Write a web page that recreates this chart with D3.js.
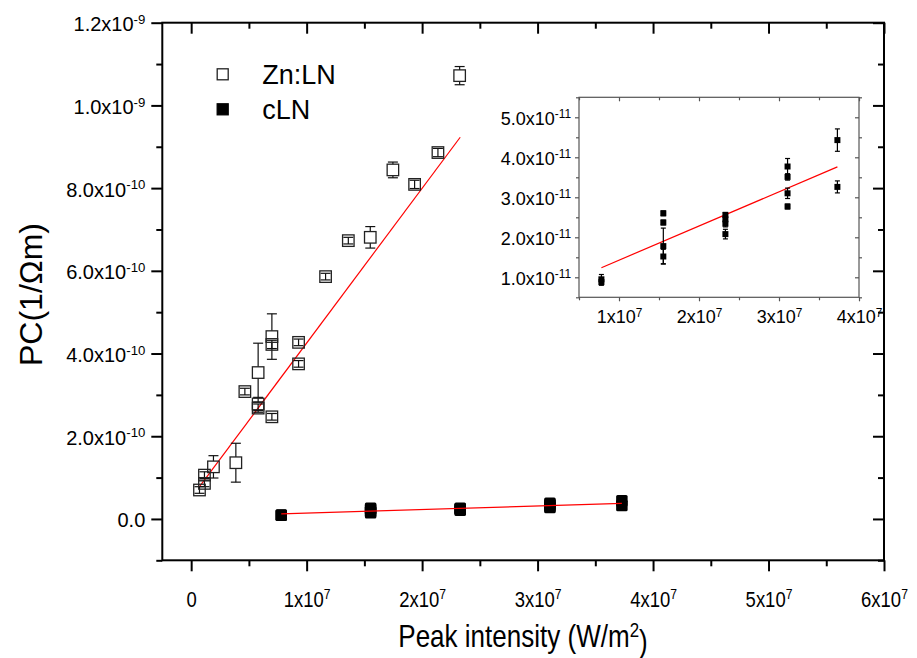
<!DOCTYPE html>
<html>
<head>
<meta charset="utf-8">
<script src="https://cdn.jsdelivr.net/npm/d3@7"></script>
<style>
body { margin: 0; background: #fff; }
text { font-family: "Liberation Sans", Arial, sans-serif; fill: #000; }
</style>
</head>
<body>
<svg id="chart" width="917" height="658"></svg>
<script>
// Zn:LN (main plot, open squares)
const znX = [0.072e7, 0.115e7, 0.115e7, 0.193e7, 0.387e7, 0.465e7, 0.58e7, 0.58e7, 0.58e7, 0.699e7, 0.699e7,
	0.699e7, 0.93e7, 0.93e7, 1.164e7, 1.361e7, 1.551e7, 1.747e7, 1.935e7, 2.137e7, 2.325e7];
const znY = [0.70e-10, 0.86e-10, 1.06e-10, 1.26e-10, 1.36e-10, 3.08e-10, 2.68e-10, 2.78e-10, 3.54e-10, 2.47e-10, 4.22e-10,
	4.41e-10, 3.75e-10, 4.27e-10, 5.86e-10, 6.73e-10, 6.81e-10, 8.44e-10, 8.09e-10, 8.86e-10, 10.72e-10];
const znErr = [0.08e-10, 0.08e-10, 0.08e-10, 0.27e-10, 0.47e-10, 0.08e-10, 0.1e-10, 0.16e-10, 0.71e-10, 0.08e-10, 0.1e-10,
	0.55e-10, 0.08e-10, 0.08e-10, 0.08e-10, 0.08e-10, 0.26e-10, 0.19e-10, 0.1e-10, 0.1e-10, 0.22e-10];
const znFitX = [0.072e7, 2.33e7];
const znFitY = [0.78e-10, 9.23e-10];

// cLN (filled squares, main plot and inset)
const clnX = [0.78e7, 0.78e7, 1.554e7, 1.554e7, 1.554e7, 1.554e7, 2.33e7, 2.33e7, 2.33e7, 2.33e7,
	3.107e7, 3.107e7, 3.107e7, 3.107e7, 3.73e7, 3.73e7];
const clnY = [0.95e-11, 0.88e-11, 2.60e-11, 2.37e-11, 1.78e-11, 1.52e-11, 2.56e-11, 2.45e-11, 2.34e-11, 2.08e-11,
	3.77e-11, 3.51e-11, 3.10e-11, 2.77e-11, 4.43e-11, 3.26e-11];
const clnErr = [0.12e-11, 0.08e-11, 0.06e-11, 0.06e-11, 0.45e-11, 0.18e-11, 0.06e-11, 0.06e-11, 0.08e-11, 0.12e-11,
	0.2e-11, 0.08e-11, 0.13e-11, 0.06e-11, 0.28e-11, 0.15e-11];
const clnFitX = [0.78e7, 3.73e7];
const clnFitY = [1.24e-11, 3.76e-11];

// tick labels
const xTicks = [0, 1e7, 2e7, 3e7, 4e7, 5e7, 6e7];
const xTickMant = ["0", "1", "2", "3", "4", "5", "6"];
const xTickExp = [null, "7", "7", "7", "7", "7", "7"];
const xMinor = [0.5e7, 1.5e7, 2.5e7, 3.5e7, 4.5e7, 5.5e7];
const yTicks = [0, 2e-10, 4e-10, 6e-10, 8e-10, 1e-9, 1.2e-9];
const yTickMant = ["0.0", "2.0", "4.0", "6.0", "8.0", "1.0", "1.2"];
const yTickExp = [null, "-10", "-10", "-10", "-10", "-9", "-9"];
const yMinor = [-1e-10, 1e-10, 3e-10, 5e-10, 7e-10, 9e-10, 1.1e-9];

const insXTicks = [1e7, 2e7, 3e7, 4e7];
const insXTickMant = ["1", "2", "3", "4"];
const insXMinor = [0.5e7, 1.5e7, 2.5e7, 3.5e7];
const insYTicks = [1e-11, 2e-11, 3e-11, 4e-11, 5e-11];
const insYTickMant = ["1.0", "2.0", "3.0", "4.0", "5.0"];
const insYMinor = [0.5e-11, 1.5e-11, 2.5e-11, 3.5e-11, 4.5e-11, 5.5e-11];

const legendNames = ["Zn:LN", "cLN"];

const size = { w: 917, h: 658 };
const main = { l: 162.3, t: 22.7, r: 884, b: 560.3 };
const ins = { l: 579, t: 97.3, r: 859, b: 297.3 };
const narrow = 0.84; // horizontal squeeze standing in for Arial Narrow

const svg = d3.select("#chart");

const x = d3.scaleLinear().domain([-2.5e6, 6e7]).range([main.l, main.r]);
const y = d3.scaleLinear().domain([-1e-10, 1.2e-9]).range([main.b, main.t]);
const xi = d3.scaleLinear().domain([0.5e7, 4e7]).range([ins.l, ins.r]);
const yi = d3.scaleLinear().domain([0.5e-11, 5.5e-11]).range([ins.b, ins.t]);

function sciLabel(text, mant, exp) {
	text.text(null);
	if (exp == null) {
		text.text(mant);
		return;
	}
	text.append("tspan").text(mant + "x10");
	text.append("tspan").attr("dy", "-0.55em").attr("font-size", "0.66em").text(exp);
}

function drawAxis(g, axis, opts) {
	g.call(axis);
	g.select(".domain").remove();
	g.selectAll("line").attr("stroke", opts.color).attr("stroke-width", opts.width);
	g.attr("font-family", null).attr("font-size", null);
	return g;
}

// ---- main axes ----
const axisOpts = { color: "#000", width: 2 };

// minor ticks
drawAxis(svg.append("g").attr("transform", `translate(0,${main.b})`),
	d3.axisBottom(x).tickValues(xMinor).tickSize(6).tickSizeOuter(0).tickFormat(""), axisOpts);
drawAxis(svg.append("g").attr("transform", `translate(0,${main.t})`),
	d3.axisBottom(x).tickValues(xMinor).tickSize(6).tickSizeOuter(0).tickFormat(""), axisOpts);
drawAxis(svg.append("g").attr("transform", `translate(${main.l},0)`),
	d3.axisLeft(y).tickValues(yMinor).tickSize(6).tickSizeOuter(0).tickFormat(""), axisOpts);
drawAxis(svg.append("g").attr("transform", `translate(${main.r},0)`),
	d3.axisLeft(y).tickValues(yMinor).tickSize(6).tickSizeOuter(0).tickFormat(""), axisOpts);

// major ticks
let xAxisG = drawAxis(svg.append("g").attr("transform", `translate(0,${main.b})`),
	d3.axisBottom(x).tickValues(xTicks).tickSize(11).tickSizeOuter(0).tickPadding(20), axisOpts);
xAxisG.selectAll("text")
	.attr("font-size", 22)
	.attr("transform", `scale(${narrow},1)`)
	.each(function (d, i) { sciLabel(d3.select(this), xTickMant[i], xTickExp[i]); });

drawAxis(svg.append("g").attr("transform", `translate(0,${main.t})`),
	d3.axisBottom(x).tickValues(xTicks).tickSize(11).tickSizeOuter(0).tickFormat(""), axisOpts);

let yAxisG = drawAxis(svg.append("g").attr("transform", `translate(${main.l},0)`),
	d3.axisLeft(y).tickValues(yTicks).tickSize(11).tickSizeOuter(0).tickPadding(6), axisOpts);
yAxisG.selectAll("text")
	.attr("font-size", 20)
	.attr("dy", "0.4em")
	.each(function (d, i) { sciLabel(d3.select(this), yTickMant[i], yTickExp[i]); });

drawAxis(svg.append("g").attr("transform", `translate(${main.r},0)`),
	d3.axisRight(y).tickValues(yTicks).tickSize(-11).tickSizeOuter(0).tickFormat(""), axisOpts);

svg.append("rect")
	.attr("x", main.l).attr("y", main.t)
	.attr("width", main.r - main.l).attr("height", main.b - main.t)
	.attr("fill", "none").attr("stroke", "#000").attr("stroke-width", 2);

// axis titles
svg.append("text")
	.attr("transform", `translate(42,${(main.t + main.b) / 2 + 3}) rotate(-90)`)
	.attr("text-anchor", "middle")
	.attr("font-size", 32)
	.text("PC(1/Ωm)");

let xTitle = svg.append("text")
	.attr("transform", `translate(523,647) scale(${narrow},1)`)
	.attr("text-anchor", "middle")
	.attr("font-size", 31);
xTitle.append("tspan").text("Peak intensity (W/m");
xTitle.append("tspan").attr("dy", "-0.5em").attr("font-size", "0.65em").text("2");
xTitle.append("tspan").attr("dy", "0.5em").text(")");

// ---- error bars + markers ----
function errorBars(g, xs, ys, errs, xScale, yScale, half, capW, color) {
	xs.forEach((xv, i) => {
		let cx = xScale(xv);
		let cy = yScale(ys[i]);
		let top = yScale(ys[i] + errs[i]);
		let bot = yScale(ys[i] - errs[i]);
		let segs = cy - top > half ? [[top, cy - half], [cy + half, bot]] : [[top, bot]];
		segs.forEach((s) => {
			g.append("line")
				.attr("x1", cx).attr("x2", cx).attr("y1", s[0]).attr("y2", s[1])
				.attr("stroke", color).attr("stroke-width", 1.2);
		});
		[top, bot].forEach((yy) => {
			g.append("line")
				.attr("x1", cx - capW / 2).attr("x2", cx + capW / 2).attr("y1", yy).attr("y2", yy)
				.attr("stroke", color).attr("stroke-width", 1.2);
		});
	});
}

let plotG = svg.append("g");

// Zn:LN fit
plotG.append("line")
	.attr("x1", x(znFitX[0])).attr("y1", y(znFitY[0]))
	.attr("x2", x(znFitX[1])).attr("y2", y(znFitY[1]))
	.attr("stroke", "#ff0000").attr("stroke-width", 1.2);

const znSize = 11.5;
errorBars(plotG, znX, znY, znErr, x, y, znSize / 2, 10, "#111");
plotG.selectAll("rect.zn")
	.data(znX)
	.join("rect")
	.classed("zn", true)
	.attr("x", (d) => x(d) - znSize / 2)
	.attr("y", (d, i) => y(znY[i]) - znSize / 2)
	.attr("width", znSize).attr("height", znSize)
	.attr("fill", "none").attr("stroke", "#222").attr("stroke-width", 1.3);

// cLN in main plot
const clnSize = 11.5;
errorBars(plotG, clnX, clnY, clnErr, x, y, 0, 10, "#000");
plotG.selectAll("rect.cln")
	.data(clnX)
	.join("rect")
	.classed("cln", true)
	.attr("x", (d) => x(d) - clnSize / 2)
	.attr("y", (d, i) => y(clnY[i]) - clnSize / 2)
	.attr("width", clnSize).attr("height", clnSize)
	.attr("rx", 1.5)
	.attr("fill", "#000");

plotG.append("line")
	.attr("x1", x(clnFitX[0])).attr("y1", y(clnFitY[0]))
	.attr("x2", x(clnFitX[1])).attr("y2", y(clnFitY[1]))
	.attr("stroke", "#ff0000").attr("stroke-width", 1.2);

// ---- legend ----
let legG = svg.append("g");
legendNames.forEach((name, i) => {
	let ly = 74.3 + i * 35;
	legG.append("rect")
		.attr("x", 222.7 - 5.5).attr("y", ly - 5.5)
		.attr("width", 11).attr("height", 11)
		.attr("fill", i === 0 ? "#fff" : "#000")
		.attr("stroke", i === 0 ? "#222" : "#000")
		.attr("stroke-width", 1.3);
	legG.append("text")
		.attr("x", 262.3).attr("y", ly + 10)
		.attr("font-size", 27)
		.text(name);
});

// ---- inset ----
let insG = svg.append("g");
insG.append("rect")
	.attr("x", ins.l).attr("y", ins.t)
	.attr("width", ins.r - ins.l).attr("height", ins.b - ins.t)
	.attr("fill", "#fff");

const insOpts = { color: "#555", width: 1.2 };
drawAxis(insG.append("g").attr("transform", `translate(0,${ins.b})`),
	d3.axisBottom(xi).tickValues(insXMinor).tickSize(3).tickSizeOuter(0).tickFormat(""), insOpts);
drawAxis(insG.append("g").attr("transform", `translate(0,${ins.t})`),
	d3.axisBottom(xi).tickValues(insXMinor).tickSize(3).tickSizeOuter(0).tickFormat(""), insOpts);
drawAxis(insG.append("g").attr("transform", `translate(${ins.l},0)`),
	d3.axisLeft(yi).tickValues(insYMinor).tickSize(3).tickSizeOuter(0).tickFormat(""), insOpts);
drawAxis(insG.append("g").attr("transform", `translate(${ins.r},0)`),
	d3.axisLeft(yi).tickValues(insYMinor).tickSize(-3).tickSizeOuter(0).tickFormat(""), insOpts);

let ixG = drawAxis(insG.append("g").attr("transform", `translate(0,${ins.b})`),
	d3.axisBottom(xi).tickValues(insXTicks).tickSize(4).tickSizeOuter(0).tickPadding(9), insOpts);
ixG.selectAll("text")
	.attr("font-size", 18)
	.each(function (d, i) { sciLabel(d3.select(this), insXTickMant[i], "7"); });
drawAxis(insG.append("g").attr("transform", `translate(0,${ins.t})`),
	d3.axisBottom(xi).tickValues(insXTicks).tickSize(4).tickSizeOuter(0).tickFormat(""), insOpts);

let iyG = drawAxis(insG.append("g").attr("transform", `translate(${ins.l},0)`),
	d3.axisLeft(yi).tickValues(insYTicks).tickSize(4).tickSizeOuter(0).tickPadding(4), insOpts);
iyG.selectAll("text")
	.attr("font-size", 18)
	.attr("dy", "0.4em")
	.each(function (d, i) { sciLabel(d3.select(this), insYTickMant[i], "-11"); });
drawAxis(insG.append("g").attr("transform", `translate(${ins.r},0)`),
	d3.axisRight(yi).tickValues(insYTicks).tickSize(-4).tickSizeOuter(0).tickFormat(""), insOpts);

insG.append("rect")
	.attr("x", ins.l).attr("y", ins.t)
	.attr("width", ins.r - ins.l).attr("height", ins.b - ins.t)
	.attr("fill", "none").attr("stroke", "#555").attr("stroke-width", 1.2);

insG.append("line")
	.attr("x1", xi(clnFitX[0])).attr("y1", yi(clnFitY[0]))
	.attr("x2", xi(clnFitX[1])).attr("y2", yi(clnFitY[1]))
	.attr("stroke", "#ff0000").attr("stroke-width", 1.2);

errorBars(insG, clnX, clnY, clnErr, xi, yi, 0, 5, "#000");
insG.selectAll("rect.icln")
	.data(clnX)
	.join("rect")
	.classed("icln", true)
	.attr("x", (d) => xi(d) - 3)
	.attr("y", (d, i) => yi(clnY[i]) - 3)
	.attr("width", 6).attr("height", 6)
	.attr("fill", "#000");
</script>
</body>
</html>
